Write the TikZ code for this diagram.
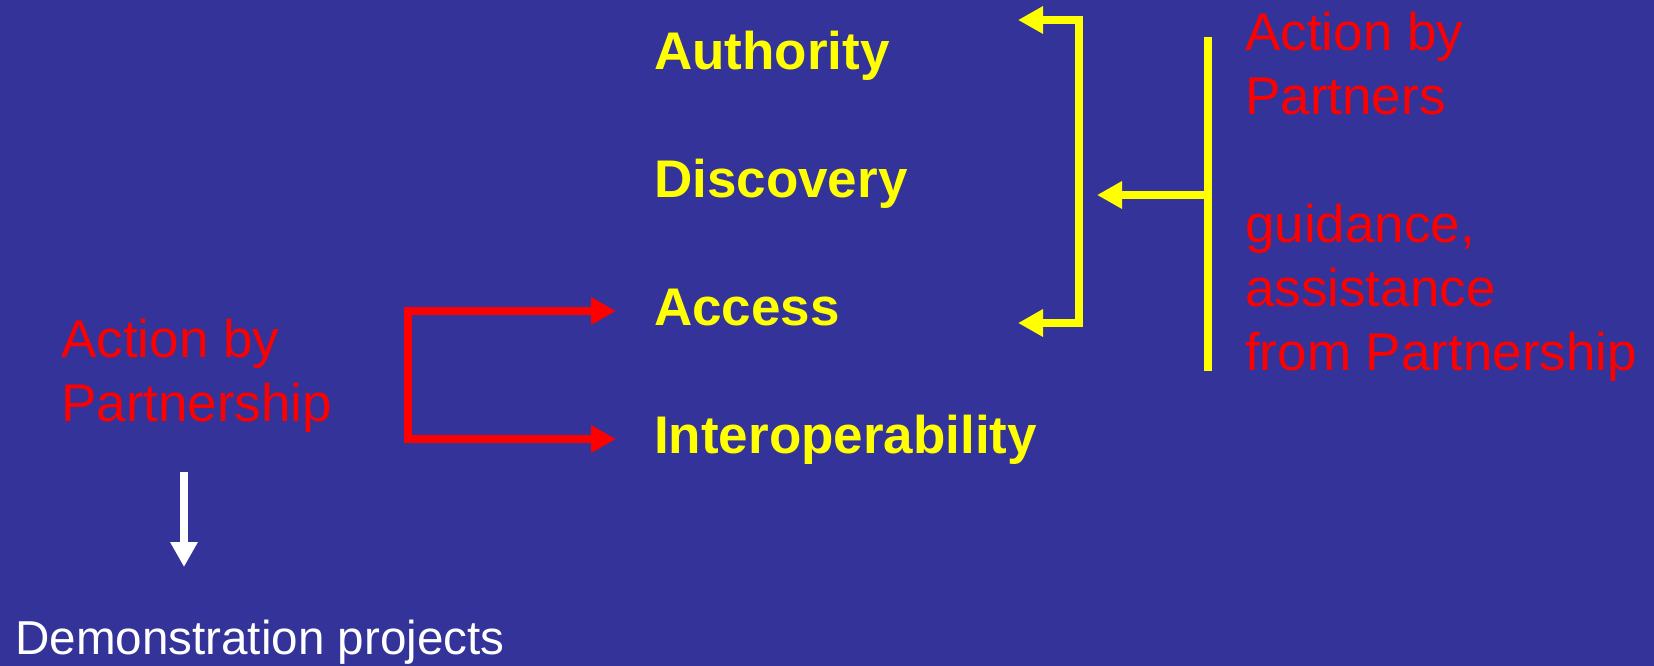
\documentclass[tikz,border=0pt]{standalone}
\usepackage{fontspec}
\setmainfont{Liberation Sans}
\usetikzlibrary{arrows.meta}
\definecolor{bgblue}{RGB}{51,51,153}
\definecolor{yel}{RGB}{255,255,0}
\definecolor{rd}{RGB}{255,0,0}
\begin{document}
\begin{tikzpicture}[x=1pt,y=-1pt,
  item/.style={anchor=base west,inner sep=0pt,text=yel,font=\fontsize{53}{64}\selectfont\bfseries},
  note/.style={anchor=base west,inner sep=0pt,text=rd,align=left,font=\fontsize{53}{64}\selectfont},
  plain/.style={anchor=base west,inner sep=0pt,text=white,font=\fontsize{47.6}{56}\selectfont},
  ytip/.style={-{Triangle[length=25pt,width=26pt]}},
  ybi/.style={{Triangle[length=25pt,width=26pt]}-{Triangle[length=25pt,width=26pt]}},
  yline/.style={draw=yel,line width=8pt,line join=miter},
  rline/.style={draw=rd,line width=8pt,line join=miter},
  wline/.style={draw=white,line width=8pt}]
\useasboundingbox (0,0) rectangle (1654,666);
\fill[bgblue] (0,0) rectangle (1654,666);

% yellow items
\node[item] (auth) at (654,70) {Authority};
\node[item] (disc) at (654,197) {Discovery};
\node[item] (acc) at (654,325) {Access};
\node[item] (inter) at (654,453) {Interoperability};

% red notes (base anchor = baseline of the last line)
\node[note] (partners) at (1245,370) {Action by\\Partners\\[64pt]guidance,\\assistance\\from Partnership};
\node[note] (partnership) at (61,421) {Action by\\Partnership};
\node[plain] (demo) at (15,654) {Demonstration projects};

% yellow bracket
\coordinate (ta) at (1018,20);
\coordinate (tb) at (1018,323);
\coordinate (tm) at (1097,195);
\coordinate (bm) at (1208,195);
\coordinate (vtop) at (1208,37);
\coordinate (vbot) at (1208,371);
\draw[yline,ybi] (ta) -- (1079,20) -- (1079,323) -- (tb);
\draw[yline] (vtop) -- (vbot);
\draw[yline,ytip] (bm) -- (tm);

% red bracket
\coordinate (rtop) at (408,311);
\coordinate (rbot) at (408,439);
\draw[rline,ybi] ([shift={(-38pt,14pt)}]acc.base west) -- (rtop) -- (rbot) -- ([shift={(-38pt,14pt)}]inter.base west);

% white arrow
\coordinate (wtop) at (184,472);
\coordinate (wbot) at (184,567);
\draw[wline,ytip] (wtop) -- (wbot);
\end{tikzpicture}
\end{document}
